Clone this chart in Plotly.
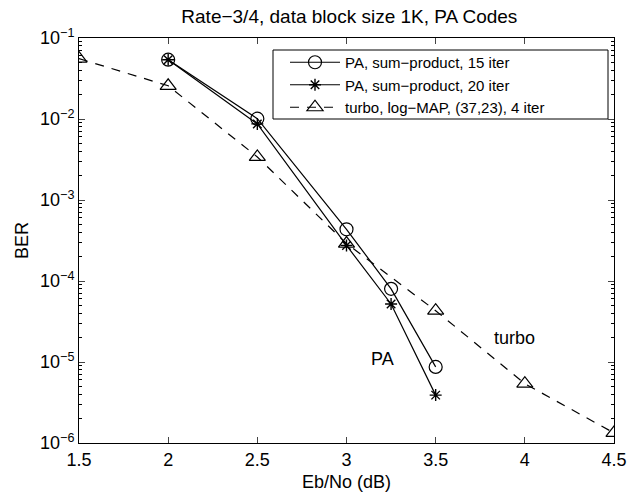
import plotly.graph_objects as go

ebno_pa = [2.0, 2.5, 3.0, 3.25, 3.5]
ber_pa15 = [0.054, 0.0101, 4.35e-4, 8.0e-5, 8.7e-6]
ber_pa20 = [0.054, 0.0087, 2.75e-4, 5.2e-5, 3.9e-6]
ebno_turbo = [1.5, 2.0, 2.5, 3.0, 3.5, 4.0, 4.5]
ber_turbo = [0.0557, 0.0257, 3.4e-3, 2.9e-4, 4.3e-5, 5.4e-6, 1.33e-6]

names = ["PA, sum\u2212product, 15 iter",
         "PA, sum\u2212product, 20 iter",
         "turbo, log\u2212MAP, (37,23), 4 iter"]

y_exps = [-6, -5, -4, -3, -2, -1]
x_ticks = [1.5, 2, 2.5, 3, 3.5, 4, 4.5]

FONT = "Liberation Sans, Arial, Helvetica, sans-serif"

fig = go.Figure()
fig.add_trace(go.Scatter(x=ebno_pa, y=ber_pa15, name=names[0], mode="lines+markers",
                         line=dict(color="black", width=1.2),
                         marker=dict(symbol="circle-open", size=13, color="black", line=dict(width=1.2))))
fig.add_trace(go.Scatter(x=ebno_pa, y=ber_pa20, name=names[1], mode="lines+markers",
                         line=dict(color="black", width=1.2),
                         marker=dict(symbol="asterisk-open", size=10, color="black", line=dict(width=1.4))))
fig.add_trace(go.Scatter(x=ebno_turbo, y=ber_turbo, name=names[2], mode="lines+markers",
                         line=dict(color="black", width=1.2, dash="9px,8px"),
                         marker=dict(symbol="triangle-up-open", size=14, color="black", line=dict(width=1.2))))

minor_vals = [m * 10 ** e for e in range(-6, -1) for m in range(2, 10)]

# legend frame (MATLAB-style box, wider than the entries)
fig.add_shape(type="rect", xref="paper", yref="paper",
              x0=(273 - 79) / 535, x1=(608 - 79) / 535,
              y0=(443 - 119) / 405, y1=(443 - 50) / 405,
              line=dict(color="black", width=1), fillcolor="white", layer="above")

fig.update_layout(
    width=641, height=494,
    margin=dict(l=79, r=27, t=38, b=51),
    paper_bgcolor="white", plot_bgcolor="white",
    font=dict(family=FONT, size=18, color="black"),
    title=dict(text="Rate\u22123/4, data block size 1K, PA Codes", x=0.545, xanchor="center",
               y=1 - 16 / 494, yanchor="middle", font=dict(size=19)),
    showlegend=True,
    legend=dict(x=(285 - 79) / 535, y=(443 - 46) / 405, xanchor="left", yanchor="top",
                bgcolor="rgba(0,0,0,0)", borderwidth=0,
                font=dict(size=15), tracegroupgap=0, itemwidth=50),
    xaxis=dict(range=[1.5, 4.5], tickvals=x_ticks, ticks="inside", ticklen=6,
               showline=True, linecolor="black", linewidth=1, mirror="ticks",
               showgrid=False, zeroline=False, automargin=False,
               title=dict(text="Eb/No (dB)", standoff=6, font=dict(size=18)),
               tickfont=dict(size=18)),
    yaxis=dict(type="log", range=[-6, -1],
               tickvals=[10 ** e for e in y_exps],
               ticktext=["10<sup>\u2212%d</sup>" % (-e) for e in y_exps],
               ticks="inside", ticklen=6,
               minor=dict(tickvals=minor_vals, ticks="inside", ticklen=3, tickcolor="black", showgrid=False),
               showline=True, linecolor="black", linewidth=1, mirror="ticks",
               showgrid=False, zeroline=False, automargin=False,
               title=dict(text="BER", standoff=6, font=dict(size=18)),
               tickfont=dict(size=18)),
)

fig.add_annotation(x=3.2, y=-4.96, xref="x", yref="y", text="PA", showarrow=False,
                   font=dict(size=18))
fig.add_annotation(x=3.94, y=-4.70, xref="x", yref="y", text="turbo", showarrow=False,
                   font=dict(size=18))

fig.write_html("out.html")
